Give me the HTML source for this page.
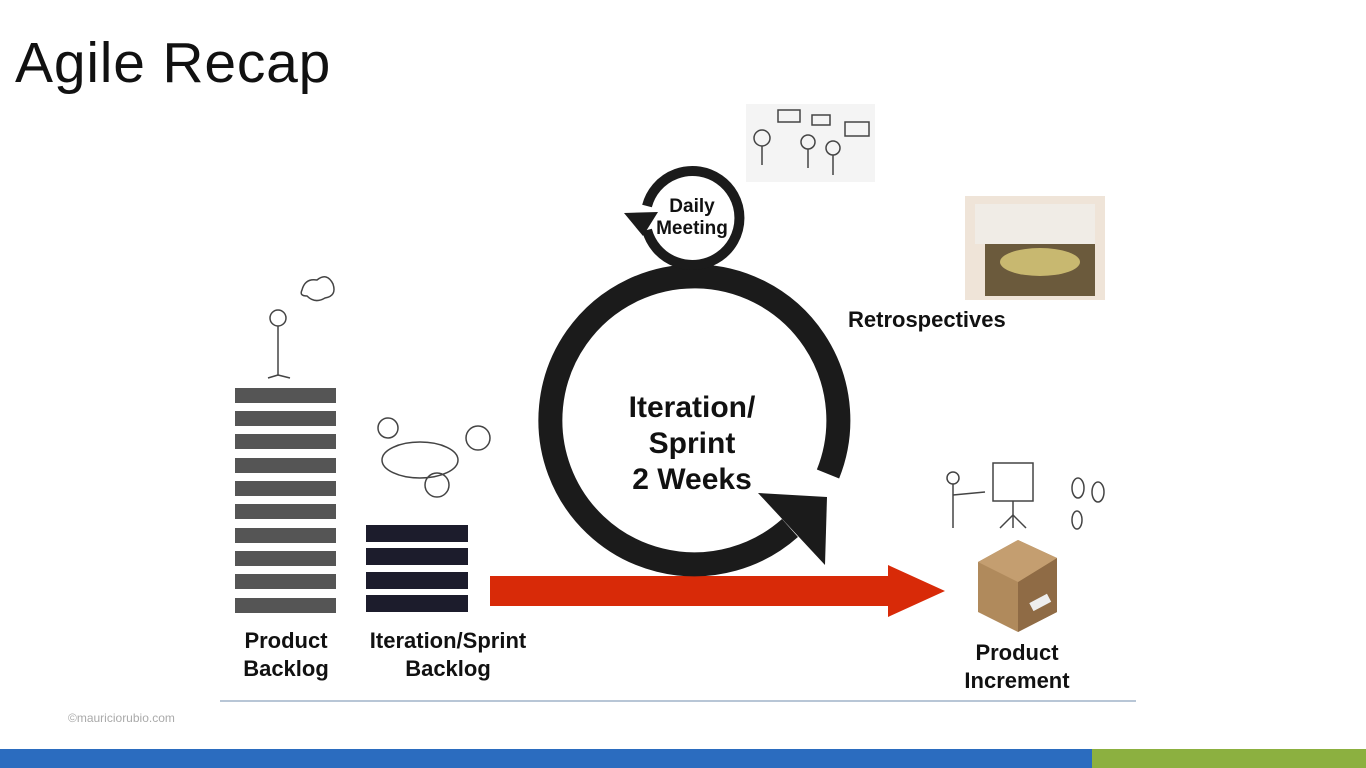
<!DOCTYPE html>
<html><head><meta charset="utf-8"><style>
body{margin:0;width:1366px;height:768px;background:#fff;position:relative;overflow:hidden;font-family:"Liberation Sans",Arial,sans-serif}
.t{position:absolute;font-weight:bold;color:#111;text-align:center}
</style></head><body>
<div style="position:absolute;left:15px;top:30px;font-size:57px;color:#111;letter-spacing:0.8px">Agile Recap</div>
<svg width="1366" height="768" style="position:absolute;left:0;top:0">
<g fill="#555">
<rect x="235" y="388" width="101" height="15"/><rect x="235" y="411" width="101" height="15"/><rect x="235" y="434" width="101" height="15"/><rect x="235" y="458" width="101" height="15"/><rect x="235" y="481" width="101" height="15"/><rect x="235" y="504" width="101" height="15"/><rect x="235" y="528" width="101" height="15"/><rect x="235" y="551" width="101" height="15"/><rect x="235" y="574" width="101" height="15"/><rect x="235" y="598" width="101" height="15"/>
</g>
<g fill="#1c1c2c">
<rect x="366" y="525" width="102" height="17"/><rect x="366" y="548" width="102" height="17"/><rect x="366" y="572" width="102" height="17"/><rect x="366" y="595" width="102" height="17"/>
</g>
<polygon points="490,576 888,576 888,565 945,591 888,617 888,606 490,606" fill="#d82a08"/>
<path d="M828,474 A144,144 0 1 0 790,528" fill="none" stroke="#1b1b1b" stroke-width="24"/>
<polygon points="758,493 827,497 825,565" fill="#1b1b1b"/>
<path d="M647,206 A47,47 0 1 1 647,230" fill="none" stroke="#1b1b1b" stroke-width="10"/>
<polygon points="624,213 658,212 643,236" fill="#1b1b1b"/>
<rect x="746" y="104" width="129" height="78" fill="#f4f4f4"/>
<g stroke="#444" fill="none" stroke-width="1.5">
<circle cx="762" cy="138" r="8"/><line x1="762" y1="146" x2="762" y2="165"/><circle cx="808" cy="142" r="7"/><line x1="808" y1="149" x2="808" y2="168"/><circle cx="833" cy="148" r="7"/><line x1="833" y1="155" x2="833" y2="175"/>
<rect x="778" y="110" width="22" height="12"/><rect x="812" y="115" width="18" height="10"/><rect x="845" y="122" width="24" height="14"/>
<circle cx="278" cy="318" r="8"/><line x1="278" y1="326" x2="278" y2="375"/><line x1="278" y1="375" x2="268" y2="378"/><line x1="278" y1="375" x2="290" y2="378"/>
<path d="M302,290 q3,-12 15,-10 q10,-8 16,4 q4,12 -8,14 q-10,6 -18,-2 q-8,0 -5,-6z"/>
<circle cx="388" cy="428" r="10"/><ellipse cx="420" cy="460" rx="38" ry="18"/><circle cx="478" cy="438" r="12"/><circle cx="437" cy="485" r="12"/>
<circle cx="953" cy="478" r="6"/><line x1="953" y1="484" x2="953" y2="528"/><line x1="953" y1="495" x2="985" y2="492"/>
<rect x="993" y="463" width="40" height="38"/><line x1="1013" y1="501" x2="1013" y2="528"/><line x1="1013" y1="515" x2="1000" y2="528"/><line x1="1013" y1="515" x2="1026" y2="528"/>
<ellipse cx="1078" cy="488" rx="6" ry="10"/><ellipse cx="1098" cy="492" rx="6" ry="10"/><ellipse cx="1077" cy="520" rx="5" ry="9"/>
</g>
<rect x="965" y="196" width="140" height="104" fill="#e8d8c8" opacity="0.7"/>
<rect x="975" y="204" width="120" height="40" fill="#f0ece6"/>
<rect x="985" y="244" width="110" height="52" fill="#6b5a3c"/>
<ellipse cx="1040" cy="262" rx="40" ry="14" fill="#c8b870"/>
<polygon points="978,562 1018,540 1057,558 1057,612 1018,632 978,612" fill="#b08a5c"/>
<polygon points="1018,582 1057,558 1057,612 1018,632" fill="#8f6b45"/>
<polygon points="978,562 1018,540 1057,558 1018,582" fill="#c49e70"/>
<rect x="1030" y="598" width="20" height="9" fill="#eee" transform="rotate(-28 1040 602)"/>
<line x1="220" y1="701" x2="1136" y2="701" stroke="#b8c6d6" stroke-width="2"/>
<rect x="0" y="749" width="1092" height="19" fill="#2b6cbf"/>
<rect x="1092" y="749" width="274" height="19" fill="#8cb040"/>
</svg>
<div class="t" style="left:640px;top:196px;width:104px;font-size:19px;line-height:22px">Daily<br>Meeting</div>
<div class="t" style="left:592px;top:390px;width:200px;font-size:30px;line-height:36px">Iteration/<br>Sprint<br>2 Weeks</div>
<div class="t" style="left:848px;top:307px;font-size:22px">Retrospectives</div>
<div class="t" style="left:226px;top:627px;width:120px;font-size:22px;line-height:28px">Product<br>Backlog</div>
<div class="t" style="left:358px;top:627px;width:180px;font-size:22px;line-height:28px">Iteration/Sprint<br>Backlog</div>
<div class="t" style="left:947px;top:639px;width:140px;font-size:22px;line-height:28px">Product<br>Increment</div>
<div style="position:absolute;left:68px;top:711px;font-size:12px;color:#aaa">©mauriciorubio.com</div>
</body></html>
